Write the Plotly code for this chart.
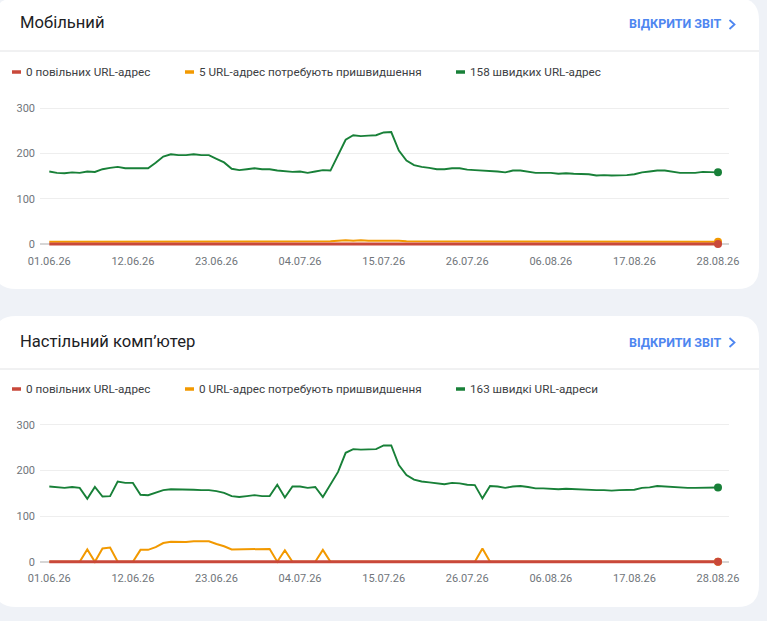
import pandas as pd
import plotly.graph_objects as go

W, H = 767, 621

# ---------------- data ----------------
dates = pd.date_range("2026-06-01", periods=89, freq="D")
tick_dates = pd.date_range("2026-06-01", periods=9, freq="11D")
tick_labels = [d.strftime("%d.%m.%y") for d in tick_dates]

mob_fast = [160, 157, 156, 158, 157, 160, 159, 165, 168, 170,
            167, 167, 167, 167, 179, 193, 198, 196, 196, 198,
            196, 196, 188, 180, 166, 163, 165, 167, 165, 165,
            162, 160, 159, 160, 157, 160, 163, 162, 196, 230,
            240, 238, 239, 240, 246, 247, 206, 184, 174, 170,
            168, 165, 165, 167, 167, 164, 163, 162, 162, 160,
            158, 162, 162, 160, 157, 157, 157, 155, 156, 155,
            154, 154, 151, 152, 151, 151, 152, 154, 158, 160,
            162, 162, 160, 157, 157, 157, 159, 158, 158]
mob_improve = [5, 5, 5, 5, 5, 5, 5, 6, 6, 6,
               6, 6, 6, 6, 6, 5, 5, 5, 5, 5,
               5, 5, 5, 5, 5, 6, 6, 6, 6, 6,
               6, 6, 6, 6, 6, 6, 6, 6, 7, 8,
               7, 8, 7, 7, 8, 8, 7, 6, 6, 5,
               5, 5, 5, 5, 5, 5, 5, 5, 5, 5,
               5, 5, 5, 5, 5, 5, 5, 5, 5, 5,
               5, 5, 5, 5, 5, 5, 5, 5, 5, 5,
               5, 5, 5, 5, 5, 5, 5, 5, 5]
mob_slow = [0] * 89

desk_fast = [165, 163, 162, 164, 162, 138, 164, 143, 144, 176,
             173, 173, 147, 146, 152, 157, 159, 159, 158, 158,
             157, 157, 155, 151, 144, 142, 144, 146, 144, 144,
             169, 141, 165, 165, 162, 164, 142, 168, 197, 239,
             247, 246, 246, 247, 255, 255, 212, 190, 180, 176,
             174, 172, 170, 173, 172, 169, 168, 139, 166, 165,
             162, 165, 166, 164, 161, 161, 160, 159, 160, 159,
             159, 158, 157, 157, 156, 157, 157, 158, 162, 163,
             166, 165, 164, 162, 162, 162, 162, 162, 163]
desk_improve = [0, 0, 0, 0, 0, 27, 0, 29, 31, 0,
                0, 0, 26, 26, 32, 41, 44, 43, 43, 45,
                45, 45, 39, 34, 27, 27, 28, 27, 28, 28,
                0, 25, 0, 0, 0, 0, 26, 0, 0, 0,
                0, 0, 0, 0, 0, 0, 0, 0, 0, 0,
                0, 0, 0, 0, 0, 0, 0, 29, 0, 0,
                0, 0, 0, 0, 0, 0, 0, 0, 0, 0,
                0, 0, 0, 0, 0, 0, 0, 0, 0, 0,
                0, 0, 0, 0, 0, 0, 0, 0, 0]
desk_slow = [0] * 89

y_ticks = [0, 100, 200, 300]

titles = ["Мобільний", "Настільний комп’ютер"]
link_text = "ВІДКРИТИ ЗВІТ"
legend_texts = [
    [f"{mob_slow[-1]} повільних URL-адрес",
     f"{mob_improve[-1]} URL-адрес потребують пришвидшення",
     f"{mob_fast[-1]} швидких URL-адрес"],
    [f"{desk_slow[-1]} повільних URL-адрес",
     f"{desk_improve[-1]} URL-адрес потребують пришвидшення",
     f"{desk_fast[-1]} швидкі URL-адреси"],
]

# ---------------- styles ----------------
GREEN = "#188038"
ORANGE = "#f29900"
RED = "#c9483a"
BG = "#eff2f7"
LINK = "#4e86f0"
FONT = "Roboto"


def px(x, y):
    return x / W, 1 - y / H


def rrect(x0, y0, x1, y1, r):
    def P(x, y):
        a, b = px(x, y)
        return f"{a:.5f},{b:.5f}"
    return (f"M {P(x0 + r, y0)} L {P(x1 - r, y0)} Q {P(x1, y0)} {P(x1, y0 + r)} "
            f"L {P(x1, y1 - r)} Q {P(x1, y1)} {P(x1 - r, y1)} "
            f"L {P(x0 + r, y1)} Q {P(x0, y1)} {P(x0, y1 - r)} "
            f"L {P(x0, y0 + r)} Q {P(x0, y0)} {P(x0 + r, y0)} Z")


fig = go.Figure()

panels = [
    dict(fast=mob_fast, imp=mob_improve, slow=mob_slow, xa="x", ya="y",
         card=(-6, -2, 759, 289), title_y=23, sep_y=51, leg_y=72,
         zero_px=244.0, top_px=108.0),
    dict(fast=desk_fast, imp=desk_improve, slow=desk_slow, xa="x2", ya="y2",
         card=(-6, 316, 759, 607), title_y=341, sep_y=369, leg_y=389,
         zero_px=561.7, top_px=425.0),
]

shapes = []
annotations = []
layout_axes = {}

x_left_px, x_right_px = 40, 729
first_px, last_px = 49.3, 718.0
day_px = (last_px - first_px) / 88.0
x_start = dates[0] + pd.Timedelta(days=(x_left_px - first_px) / day_px)
x_end = dates[0] + pd.Timedelta(days=(x_right_px - first_px) / day_px)

for i, p in enumerate(panels):
    # card
    cx0, cy0, cx1, cy1 = p["card"]
    shapes.append(dict(type="path", path=rrect(cx0, cy0, cx1, cy1, 22),
                       xref="paper", yref="paper", fillcolor="white",
                       line=dict(width=0), layer="below"))
    # separator
    sx0, sy = px(0, p["sep_y"])
    sx1, _ = px(cx1, p["sep_y"])
    shapes.append(dict(type="line", xref="paper", yref="paper", x0=sx0, x1=sx1,
                       y0=sy, y1=sy, line=dict(color="#e2e3e5", width=1), layer="below"))
    # title
    tx, ty = px(18, p["title_y"])
    annotations.append(dict(text=titles[i], x=tx, y=ty, xref="paper", yref="paper",
                            xanchor="left", yanchor="middle", showarrow=False,
                            font=dict(family=FONT, size=16.6, color="#202124")))
    # link
    lx, ly = px(724, p["title_y"] + 1)
    annotations.append(dict(text=f"<b>{link_text}</b>", x=lx, y=ly, xref="paper", yref="paper",
                            xanchor="right", yanchor="middle", showarrow=False,
                            font=dict(family=FONT, size=12.5, color=LINK)))
    cy = p["title_y"] + 1.5
    c1 = px(729.5, cy - 4.5)
    c2 = px(734.5, cy)
    c3 = px(729.5, cy + 4.5)
    shapes.append(dict(type="path", xref="paper", yref="paper",
                       path=f"M {c1[0]},{c1[1]} L {c2[0]},{c2[1]} L {c3[0]},{c3[1]}",
                       line=dict(color=LINK, width=1.8)))
    # legend
    leg_items = [(12, RED), (185, ORANGE), (456, GREEN)]
    for (lx0, col), txt in zip(leg_items, legend_texts[i]):
        a0 = px(lx0, p["leg_y"])
        a1 = px(lx0 + 9, p["leg_y"])
        shapes.append(dict(type="line", xref="paper", yref="paper", x0=a0[0], x1=a1[0],
                           y0=a0[1], y1=a1[1], line=dict(color=col, width=3.5)))
        t = px(lx0 + 12, p["leg_y"])
        annotations.append(dict(text=txt, x=t[0], y=t[1], xref="paper", yref="paper",
                                xanchor="left", yanchor="middle", showarrow=False,
                                font=dict(family=FONT, size=11.7, color="#3c4043")))

    # axes
    ppu = (p["zero_px"] - p["top_px"]) / 300.0
    pad = 6
    bottom_px = p["zero_px"] + pad * ppu
    top_px = p["top_px"] - pad * ppu
    ydom = [1 - bottom_px / H, 1 - top_px / H]
    xdom = [x_left_px / W, x_right_px / W]
    sfx = "" if i == 0 else "2"
    layout_axes["xaxis" + sfx] = dict(
        domain=xdom, range=[x_start, x_end], anchor="y" + sfx,
        tickmode="array", tickvals=list(tick_dates), ticktext=tick_labels,
        showgrid=False, zeroline=False, showline=False, ticks="",
        ticklabelstandoff=6, automargin=False,
        tickfont=dict(family=FONT, size=11, color="#70757a"))
    layout_axes["yaxis" + sfx] = dict(
        domain=ydom, range=[-pad, 300 + pad], anchor="x" + sfx,
        tickmode="array", tickvals=y_ticks,
        showgrid=True, gridcolor="#eeeeee", gridwidth=1,
        zeroline=True, zerolinecolor="#d6d6d6", zerolinewidth=2,
        showline=False, ticks="", ticklabelstandoff=4, automargin=False,
        tickfont=dict(family=FONT, size=11, color="#70757a"))

    for series, col, w in [(p["fast"], GREEN, 1.9), (p["imp"], ORANGE, 2), (p["slow"], RED, 3)]:
        fig.add_trace(go.Scatter(x=dates, y=series, mode="lines", xaxis=p["xa"], yaxis=p["ya"],
                                 line=dict(color=col, width=w), hoverinfo="skip",
                                 showlegend=False))
    for series, col in [(p["fast"], GREEN), (p["imp"], ORANGE), (p["slow"], RED)]:
        fig.add_trace(go.Scatter(x=[dates[-1]], y=[series[-1]], mode="markers",
                                 xaxis=p["xa"], yaxis=p["ya"],
                                 marker=dict(color=col, size=8), hoverinfo="skip",
                                 showlegend=False, cliponaxis=False))

fig.update_layout(
    template="none",
    width=W, height=H, margin=dict(l=0, r=0, t=0, b=0, pad=0, autoexpand=False),
    paper_bgcolor=BG, plot_bgcolor="rgba(0,0,0,0)",
    shapes=shapes, annotations=annotations, showlegend=False,
    font=dict(family=FONT),
    **layout_axes,
)

fig.write_html(
    "out.html",
    config={"displayModeBar": False},
    post_script="document.body.style.margin='0';document.body.style.padding='0';"
                "document.body.style.overflow='hidden';"
                "document.documentElement.style.background='" + BG + "';",
)
